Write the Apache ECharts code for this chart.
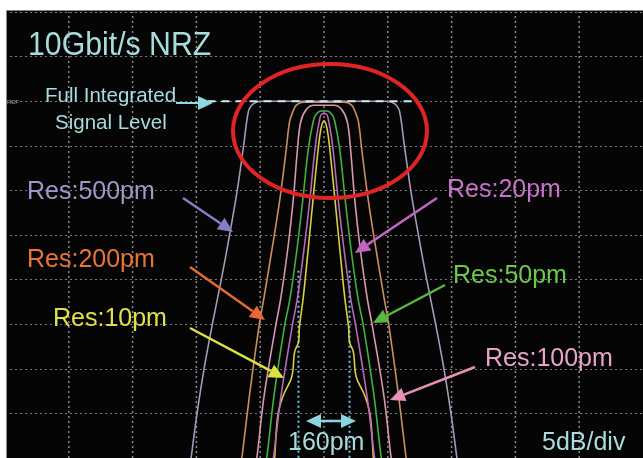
<!DOCTYPE html>
<html>
<head>
<meta charset="utf-8">
<script src="https://cdn.jsdelivr.net/npm/echarts@6/dist/echarts.min.js"></script>
<style>
html, body { margin: 0; padding: 0; background: #fff; }
#main { width: 643px; height: 458px; }
</style>
</head>
<body>
<div id="main"></div>
<script>
// each trace: [level dB (ref = 0), half width in pm from centre]
var res500 = [[0, 200], [-0.3, 222], [-1, 236], [-5, 252], [-10, 272], [-15, 296], [-20, 322], [-25, 350], [-30, 376], [-35, 398], [-41, 420]];
var res200 = [[-0.1, 62], [-0.4, 86], [-1.2, 98], [-2.3, 108], [-5.3, 118], [-10.9, 138], [-16.4, 162], [-22, 188], [-25.3, 204], [-33.1, 234], [-39.6, 256], [-41, 262]];
var res100 = [[-0.45, 31], [-0.9, 55], [-2.3, 73], [-5.3, 83], [-10.9, 96], [-16.4, 113], [-22, 135], [-25.3, 152], [-33.1, 188], [-39.6, 209], [-41, 215]];
var res50 = [[-1.1, 9], [-1.5, 25], [-2.3, 34], [-5.3, 49], [-10.9, 66], [-16.4, 84], [-22, 106], [-25.3, 124], [-33.1, 157], [-39.6, 178], [-41, 185]];
var res20 = [[-1.4, 6], [-2.3, 15], [-5.3, 28], [-10.9, 44], [-16.4, 62], [-22, 83], [-25.3, 100], [-33.1, 135], [-39.6, 157], [-41, 163]];
var res10 = [[-2.2, 0], [-3, 9], [-5.3, 18], [-10.9, 34], [-16.4, 49], [-22, 65], [-25.3, 77], [-27, 80], [-28.1, 92], [-30.9, 101], [-33.1, 129], [-35.3, 145], [-39.6, 154], [-41, 156]];

var refLine = [[-365, 0], [292, 0]];       // full integrated signal level
var markerPm = [-80, 80];                  // 160pm = first nulls
var markerDb = [-19, -41];
var xDivs = [-800, -600, -400, -200, 0, 200, 400, 600, 800];   // 200pm/div

var chart = echarts.init(document.getElementById('main'));

function mirror(list) {
	var out = [];
	for (var i = list.length - 1; i >= 0; i--) out.push([-list[i][1], list[i][0]]);
	for (var j = 0; j < list.length; j++) {
		if (j === 0 && list[j][1] === 0) continue;
		out.push([list[j][1], list[j][0]]);
	}
	return out;
}

function trace(list, color, z) {
	return {
		type: 'line', data: mirror(list), showSymbol: false, smooth: 0.35,
		lineStyle: { color: color, width: 1.6 }, z: z, silent: true
	};
}

function arrow(x1, y1, x2, y2, color) {
	var a = Math.atan2(y2 - y1, x2 - x1), L = 15, W = 7;
	var bx = x2 - L * Math.cos(a), by = y2 - L * Math.sin(a);
	return [
		{ type: 'line', shape: { x1: x1, y1: y1, x2: bx, y2: by }, style: { stroke: color, lineWidth: 2.5 }, z: 50 },
		{ type: 'polygon', shape: { points: [[x2, y2], [bx + W * Math.sin(a), by - W * Math.cos(a)], [bx - W * Math.sin(a), by + W * Math.cos(a)]] }, style: { fill: color }, z: 50 }
	];
}

function label(text, x, y, color, size, sx) {
	return { type: 'text', x: x, y: y, scaleX: sx || 1, z: 50,
		style: { text: text, fill: color, font: size + 'px "Liberation Sans", Arial, sans-serif', textVerticalAlign: 'middle' } };
}

var cyan = '#a8dcdc';
var gridLine = { color: 'rgba(200,200,200,0.6)', width: 1, type: [2, 3] };
var series = [];
// vertical graticule
xDivs.forEach(function (v) {
	series.push({ type: 'line', data: [[v, -40], [v, 10]], showSymbol: false, z: 2, silent: true,
		lineStyle: { color: '#8a8a8a', width: 1.5, type: [2, 3] } });
});
series = series.concat([
	trace(res10, '#d8d040', 3),
	trace(res20, '#b868b8', 4),
	trace(res50, '#40b040', 5),
	trace(res100, '#d898b0', 6),
	trace(res200, '#c89060', 7),
	trace(res500, '#a898b8', 8),
	{ type: 'line', data: refLine, showSymbol: false, z: 9, silent: true,
		lineStyle: { color: '#c8ecf0', width: 2, type: [8, 6] } }
]);
markerPm.forEach(function (p) {
	series.push({ type: 'line', data: [[p, markerDb[0]], [p, markerDb[1]]], showSymbol: false, z: 2, silent: true,
		lineStyle: { color: '#70c8d8', width: 2, type: [2, 3] } });
});

var g = [
	{ type: 'rect', shape: { x: 0, y: 0, width: 643, height: 10 }, style: { fill: '#fff' }, z: 60 },
	{ type: 'rect', shape: { x: 0, y: 0, width: 6, height: 458 }, style: { fill: '#fff' }, z: 60 },
	{ type: 'line', shape: { x1: 6, y1: 10.5, x2: 643, y2: 10.5 }, style: { stroke: '#8a8a8a', lineWidth: 1 }, z: 61 },
	{ type: 'line', shape: { x1: 6.5, y1: 10, x2: 6.5, y2: 458 }, style: { stroke: '#8a8a8a', lineWidth: 1 }, z: 61 },
	{ type: 'ellipse', shape: { cx: 330, cy: 131, rx: 97, ry: 67 }, style: { stroke: '#e02424', fill: null, lineWidth: 4 }, z: 40 },
	label('10Gbit/s NRZ', 28, 46, cyan, 34, 0.89),
	label('Full Integrated', 45, 96, cyan, 20.5),
	label('Signal Level', 55, 123, cyan, 20.5),
	{ type: 'text', x: 7, y: 102, z: 50, style: { text: 'REF', fill: '#999', font: '6px sans-serif', textVerticalAlign: 'middle' } },
	label('Res:500pm', 27, 192, '#9c98c8', 25),
	label('Res:200pm', 27, 260, '#e8743c', 25),
	label('Res:10pm', 53, 319, '#e0e048', 25),
	label('Res:20pm', 447, 190, '#c872c8', 25),
	label('Res:50pm', 453, 276, '#6cc84c', 25),
	label('Res:100pm', 485, 359, '#e8a4c8', 25),
	label('160pm', 288, 443, cyan, 25),
	label('5dB/div', 542, 443, cyan, 25),
	{ type: 'line', shape: { x1: 176, y1: 103, x2: 200, y2: 103 }, style: { stroke: '#90d8e0', lineWidth: 2 }, z: 50 }
];
g = g.concat(
	arrow(200, 103, 213, 103, '#90d8e0'),
	arrow(183, 198, 233, 232, '#8080c8'),
	arrow(190, 267, 265, 320, '#e86838'),
	arrow(190, 328, 284, 378, '#e0e040'),
	arrow(437, 198, 355, 253, '#c064c0'),
	arrow(445, 285, 373, 323, '#58b840'),
	arrow(475, 367, 390, 400, '#e890b8'),
	arrow(331, 421, 306, 421, '#8cd4e0'),
	arrow(330, 421, 356, 421, '#8cd4e0')
);

chart.setOption({
	backgroundColor: '#050505',
	animation: false,
	grid: { left: 5, right: -12, top: 12, bottom: -4 },
	xAxis: {
		type: 'value', min: -1000, max: 1000, interval: 200,
		axisLine: { show: false }, axisTick: { show: false }, axisLabel: { show: false },
		splitLine: { show: false }
	},
	yAxis: {
		type: 'value', min: -40, max: 10, interval: 5,
		axisLine: { show: false }, axisTick: { show: false }, axisLabel: { show: false },
		splitLine: { show: true, lineStyle: gridLine }
	},
	series: series,
	graphic: g
});
</script>
</body>
</html>
